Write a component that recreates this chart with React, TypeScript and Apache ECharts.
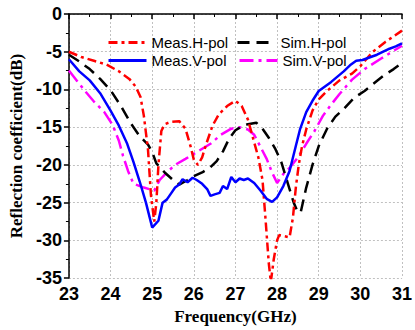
import React, { useEffect, useRef } from "react";
import * as echarts from "echarts";

const measHFreq = [23.0, 23.3, 23.6, 23.9, 24.2, 24.45, 24.6, 24.72, 24.8, 24.9, 24.97, 25.05, 25.1, 25.15, 25.22, 25.3, 25.45, 25.65, 25.8, 25.92, 26.0, 26.1, 26.2, 26.3, 26.45, 26.6, 26.8, 27.0, 27.15, 27.3, 27.4, 27.55, 27.65, 27.72, 27.8, 27.85, 27.92, 28.0, 28.05, 28.3, 28.38, 28.45, 28.52, 28.6, 28.7, 28.85, 29.0, 29.2, 29.5, 29.8, 30.0, 30.3, 30.6, 31.0];
const measHdB = [-5.0, -5.7, -6.2, -6.7, -7.6, -8.6, -9.6, -11, -13.5, -18, -24, -27.5, -25, -20, -15.5, -14.6, -14.3, -14.2, -15.2, -17.5, -19.3, -20.0, -19.0, -17.2, -14.8, -13.3, -12.2, -11.5, -12.2, -14, -16, -19, -22, -27, -33, -35.5, -32.5, -30, -29.3, -29.6, -27, -23, -20, -17.5, -15.3, -12.8, -11.3, -10.2, -8.8, -7.9, -6.9, -5.0, -3.7, -2.2];

const measVFreq = [23.0, 23.25, 23.5, 23.75, 24.0, 24.2, 24.4, 24.55, 24.7, 24.85, 25.0, 25.15, 25.25, 25.35, 25.45, 25.55, 25.65, 25.73, 25.85, 25.97, 26.07, 26.2, 26.32, 26.4, 26.5, 26.62, 26.7, 26.8, 26.9, 27.0, 27.1, 27.2, 27.3, 27.45, 27.6, 27.75, 27.88, 28.0, 28.15, 28.3, 28.45, 28.55, 28.7, 28.85, 29.0, 29.15, 29.3, 29.45, 29.6, 29.75, 29.9, 30.05, 30.2, 30.4, 30.55, 30.7, 30.85, 31.0];
const measVdB = [-6.0, -7.6, -8.8, -10.5, -12.8, -14.8, -17.2, -19.6, -22.2, -25, -28.3, -27.4, -25, -24.6, -23.8, -23.0, -22.6, -21.9, -22.3, -21.7, -22.0, -22.5, -23.2, -24.1, -23.9, -23.7, -22.8, -23.2, -21.6, -22.3, -21.8, -22.0, -21.8, -22.4, -23.4, -24.5, -24.9, -24.3, -22.8, -20.8, -17.5, -15.3, -13.0, -11.5, -10.2, -9.6, -9.0, -8.3, -7.6, -6.8, -6.2, -6.1, -5.8, -5.4, -5.0, -4.6, -4.3, -3.9];

const simHFreq = [23.0, 23.25, 23.5, 23.75, 24.0, 24.25, 24.5, 24.7, 24.9, 25.0, 25.1, 25.3, 25.5, 25.65, 25.85, 26.0, 26.2, 26.4, 26.55, 26.7, 26.85, 27.0, 27.15, 27.3, 27.5, 27.65, 27.8, 27.95, 28.1, 28.25, 28.4, 28.5, 28.57, 28.7, 28.85, 29.0, 29.2, 29.4, 29.6, 29.85, 30.1, 30.3, 30.55, 30.8, 31.0];
const simHdB = [-5.4, -6.3, -7.3, -8.6, -10.1, -12.2, -14.6, -16.2, -17.3, -18.3, -19.8, -21, -22, -22.6, -22, -21.5, -21, -20.3, -19.5, -18.2, -16.5, -15.4, -14.9, -14.6, -14.4, -15.2, -16.4, -17.8, -19.6, -22.3, -25, -26.3, -26.2, -23, -20, -17.5, -15.2, -13.6, -12.6, -11.1, -10.2, -9.3, -8.2, -7.3, -6.5];

const simVFreq = [23.0, 23.2, 23.4, 23.6, 23.85, 24.05, 24.2, 24.3, 24.42, 24.55, 24.8, 25.05, 25.18, 25.35, 25.55, 25.8, 26.1, 26.4, 26.65, 26.9, 27.1, 27.3, 27.45, 27.6, 27.75, 27.88, 28.0, 28.15, 28.3, 28.5, 28.7, 28.9, 29.1, 29.3, 29.5, 29.8, 30.1, 30.5, 31.0];
const simVdB = [-7.5, -8.9, -10.3, -11.6, -13.0, -14.7, -16.8, -18.8, -20.8, -22.5, -23.0, -23.4, -22.0, -21.0, -20.0, -19.2, -18.2, -17.2, -16.0, -15.2, -15.0, -15.3, -16.0, -17.6, -19.2, -21, -22.4, -21.2, -20.4, -19.0, -17.2, -15.5, -13.5, -12.0, -10.6, -8.7, -7.3, -5.9, -4.2];

const seriesNames = ["Meas.H-pol", "Sim.H-pol", "Meas.V-pol", "Sim.V-pol"];
const xTicks = { min: 23, max: 31, interval: 1 };
const yTicks = { min: -35, max: 0, interval: 5 };

const zip = (xs: number[], ys: number[]) => xs.map((x, i) => [x, ys[i]]);

export default function App() {
  const ref = useRef<HTMLDivElement>(null);
  useEffect(() => {
    if (!ref.current) return;
    const chart = echarts.init(ref.current, undefined, { renderer: "svg" });
    const tickFont = { fontFamily: "Liberation Sans", fontWeight: "bold" as const, fontSize: 18, color: "#000" };
    const nameFont = { fontFamily: "Liberation Serif", fontWeight: "bold" as const, fontSize: 17, color: "#000" };
    const legendText = { fontFamily: "Liberation Sans", fontSize: 15, color: "#000" };
    const mkLegend = (name: string, left: number, top: number) => ({
      data: [name],
      left,
      top,
      itemWidth: 38,
      itemHeight: 12,
      textStyle: legendText,
      padding: 0,
      selectedMode: false,
      itemStyle: { opacity: 0 },
      lineStyle: { width: 3 },
    });
    chart.setOption({
      animation: false,
      backgroundColor: "#fff",
      grid: { left: 63, right: 10, top: 14, bottom: 45 },
      legend: [
        mkLegend(seriesNames[0], 107, 35),
        mkLegend(seriesNames[1], 236, 35),
        mkLegend(seriesNames[2], 107, 53),
        mkLegend(seriesNames[3], 238, 53),
      ],
      xAxis: {
        type: "value",
        min: xTicks.min,
        max: xTicks.max,
        interval: xTicks.interval,
        name: "Frequency(GHz)",
        nameLocation: "middle",
        nameGap: 24,
        nameTextStyle: nameFont,
        axisLine: { lineStyle: { color: "#000", width: 1.5 } },
        axisTick: { show: true, length: 5, inside: false, lineStyle: { color: "#000", width: 1.5 } },
        minorTick: { show: true, splitNumber: 2, length: 3, lineStyle: { color: "#000", width: 1 } },
        axisLabel: { ...tickFont, margin: 7 },
        splitLine: { show: true, lineStyle: { color: "#c0c0c0", type: [2, 2], width: 1 } },
      },
      yAxis: {
        type: "value",
        min: yTicks.min,
        max: yTicks.max,
        interval: yTicks.interval,
        name: "Reflection coefficient(dB)",
        nameLocation: "middle",
        nameGap: 37,
        nameTextStyle: nameFont,
        axisLine: { show: true, lineStyle: { color: "#000", width: 1.5 } },
        axisTick: { show: true, length: 5, inside: false, lineStyle: { color: "#000", width: 1.5 } },
        minorTick: { show: true, splitNumber: 2, length: 3, lineStyle: { color: "#000", width: 1 } },
        axisLabel: { ...tickFont, margin: 7 },
        splitLine: { show: true, lineStyle: { color: "#c0c0c0", type: [2, 2], width: 1 } },
      },
      series: [
        {
          name: seriesNames[0],
          type: "line",
          data: zip(measHFreq, measHdB),
          showSymbol: false,
          symbol: "none",
          clip: true,
          color: "#ff0000",
          lineStyle: { color: "#ff0000", width: 2.5, type: [9, 4, 3, 4] },
          z: 3,
        },
        {
          name: seriesNames[1],
          type: "line",
          data: zip(simHFreq, simHdB),
          showSymbol: false,
          symbol: "none",
          clip: true,
          color: "#000000",
          lineStyle: { color: "#000000", width: 2.5, type: [12, 7] },
          z: 2,
        },
        {
          name: seriesNames[2],
          type: "line",
          data: zip(measVFreq, measVdB),
          showSymbol: false,
          symbol: "none",
          clip: true,
          color: "#0000ff",
          lineStyle: { color: "#0000ff", width: 2.5, type: "solid" },
          z: 4,
        },
        {
          name: seriesNames[3],
          type: "line",
          data: zip(simVFreq, simVdB),
          showSymbol: false,
          symbol: "none",
          clip: true,
          color: "#ff00ff",
          lineStyle: { color: "#ff00ff", width: 2.5, type: [14, 5, 3, 5] },
          z: 1,
        },
      ],
    });
    return () => chart.dispose();
  }, []);
  return <div ref={ref} style={{ width: 415, height: 330, position: "absolute", left: 0, top: 0 }} />;
}
